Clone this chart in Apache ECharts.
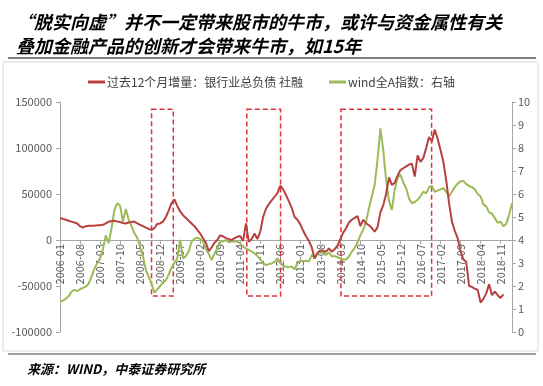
<!DOCTYPE html>
<html><head><meta charset="utf-8">
<script src="https://cdn.jsdelivr.net/npm/echarts@6/dist/echarts.min.js"></script>
<style>html,body{margin:0;padding:0;background:#fff}#c{width:543px;height:386px}</style>
</head><body><div id="c"></div>
<script>
// categories: monthly 2006-01 .. 2019-03
var startYear = 2006, nMonths = 159;
var categories = [];
for (var i = 0; i < nMonths; i++) {
  var y = startYear + Math.floor(i / 12), m = (i % 12) + 1;
  categories.push(y + '-' + (m < 10 ? '0' + m : m));
}
// 过去12个月增量：银行业总负债 社融 (left axis), thousands
var redK = [
 23.6,23,22,21,20,19,18,15,13.5,15,
 15.5,15.5,15.5,16,16,16.5,18,20,20.5,21,
 20,19.5,18.5,18,19,19.5,20,18,16.5,15,
 13.5,12,11,13,17.5,18,20,25,32,40,
 44,37,31,27,24,21,18,15,11,7,
 2,-3,-12,-8,-3,0,5,4,2,1,
 0,2,3.5,4.3,-1,18,-2,1,7,1,
 9,25,34,39,43,47,51,59,55,49,
 42,35,25,22,17,10,4,-1,-8,-20,
 -14,-11,-12,-12.7,-9,-12.7,-10,-6,1,8,
 12.7,19,22,24,26,15,22,18,16,13,
 9,14,30,38,50,68,60,62,70,76,
 78,80,82,83,69,92,85,89,100,112,
 107,120,110,98,85,65,40,20,10,2,
 -12,-21,-24,-50,-51,-53,-54,-68,-64,-58,
 -48,-60,-56,-60,-63,-59
];
var redSeries = redK.map(function(v){ return Math.round(v * 1000); });
// wind全A指数 (right axis, thousands)
var greenSeries = [
 1.32,1.36,1.45,1.55,1.75,1.83,1.78,1.85,1.92,1.97,
 2.1,2.4,2.75,3.0,3.2,3.6,4.2,3.86,4.5,5.3,
 5.6,5.5,4.8,5.35,4.9,4.6,4.3,4.1,3.7,3.3,
 2.7,2.4,2.1,1.71,1.85,2.0,2.15,2.25,2.5,2.8,
 3.0,3.2,4.0,3.2,3.3,3.5,3.93,4.05,4.1,4.04,
 3.93,3.6,3.4,3.13,3.4,3.64,3.97,3.93,4.0,3.9,
 3.93,3.95,3.93,3.85,3.7,3.64,3.57,3.5,3.42,3.3,
 3.16,3.0,2.91,2.95,2.98,3.05,3.2,3.0,2.88,2.84,
 2.82,2.85,2.72,3.0,3.1,3.09,3.1,3.06,3.35,3.2,
 3.42,3.45,3.45,3.35,3.47,3.28,3.3,3.25,3.2,3.15,
 3.15,3.28,3.49,3.65,3.9,4.2,4.45,4.8,5.38,5.9,
 6.4,7.5,8.85,7.9,6.6,5.7,5.3,6.2,6.7,6.85,
 6.5,6.25,5.8,5.6,5.65,5.75,5.9,6.1,6.03,6.3,
 6.35,6.1,6.15,6.2,6.25,6.1,5.9,6.1,6.3,6.45,
 6.55,6.57,6.43,6.35,6.3,6.2,6.0,5.9,5.55,5.45,
 5.2,5.15,4.95,4.75,4.8,4.6,4.7,5.1,5.6
];
var leftTicks = {min: -100000, max: 150000, step: 50000};
var rightTicks = {min: 0, max: 10, step: 1};
// dashed annotation boxes (month index ranges, left-axis value range)
var boxMonths = [[32.0, 39.6], [65.3, 77.1], [98.2, 129.9]];
var boxValues = [-61000, 142000];
var seriesNames = ['过去12个月增量：银行业总负债 社融', 'wind全A指数：右轴'];
var titleLines = ['“脱实向虚”并不一定带来股市的牛市，或许与资金属性有关', '叠加金融产品的创新才会带来牛市，如15年'];
var sourceText = '来源：WIND，中泰证券研究所';

var gridTop = 102, gridBottom = 54, chartH = 386;
var plotH = chartH - gridTop - gridBottom;
// distance from the plot bottom to the left axis zero line
var zeroOffset = -plotH * (0 - leftTicks.min) / (leftTicks.max - leftTicks.min);

var chart = echarts.init(document.getElementById('c'), null, {renderer: 'canvas'});
var axisGray = '#A6A6A6', labelGray = '#595959';
var font = '"Noto Sans CJK SC", "Noto Sans", sans-serif';
chart.setOption({
  animation: false,
  backgroundColor: '#fff',
  title: {
    text: titleLines.join('\n'),
    left: 11, top: 5,
    textStyle: {fontSize: 18, fontWeight: 'bold', fontStyle: 'italic', color: '#000', lineHeight: 24, fontFamily: font}
  },
  graphic: [
    {type: 'line', shape: {x1: 8, y1: 58, x2: 536, y2: 58}, style: {stroke: '#000', lineWidth: 1}},
    {type: 'rect', shape: {x: 3, y: 62, width: 535, height: 289}, style: {fill: 'none', stroke: '#D9D9D9', lineWidth: 1}},
    {type: 'line', shape: {x1: 8, y1: 354, x2: 536, y2: 354}, style: {stroke: '#404040', lineWidth: 1}},
    {type: 'text', left: 27, top: 363, style: {text: sourceText, fontSize: 13, fontWeight: 'bold', fontStyle: 'italic', fill: '#000', fontFamily: font}}
  ],
  legend: {
    top: 71, left: 'center', itemGap: 26, itemWidth: 17, itemHeight: 3, icon: 'rect',
    textStyle: {fontSize: 12, color: '#404040', fontFamily: font, padding: [0, 0, 0, -3]},
    data: seriesNames
  },
  grid: {left: 60, right: 31, top: gridTop, bottom: gridBottom, containLabel: false},
  xAxis: [{
    type: 'category', data: categories, boundaryGap: false, position: 'bottom', offset: zeroOffset,
    axisLine: {onZero: false, lineStyle: {color: axisGray}},
    axisTick: {show: true, interval: 6, length: 4, lineStyle: {color: axisGray}},
    axisLabel: {interval: 6, rotate: 90, fontSize: 11, color: labelGray, fontFamily: font, margin: 4},
    splitLine: {show: false}
  }, {
    type: 'value', min: 0, max: nMonths - 1, show: false, gridIndex: 0, position: 'top'
  }],
  yAxis: [{
    type: 'value', min: leftTicks.min, max: leftTicks.max, interval: leftTicks.step,
    axisLine: {show: true, onZero: false, lineStyle: {color: axisGray}},
    axisTick: {show: true, length: 4, lineStyle: {color: axisGray}},
    axisLabel: {fontSize: 11, color: labelGray, fontFamily: font, margin: 8, formatter: function(v){ return String(v); }},
    splitLine: {show: false}
  }, {
    type: 'value', min: rightTicks.min, max: rightTicks.max, interval: rightTicks.step, position: 'right',
    axisLine: {show: true, onZero: false, lineStyle: {color: axisGray}},
    axisTick: {show: true, length: 4, lineStyle: {color: axisGray}},
    axisLabel: {fontSize: 11, color: labelGray, fontFamily: font, margin: 6},
    splitLine: {show: false}
  }],
  series: [{
    name: seriesNames[0], type: 'line', data: redSeries, xAxisIndex: 0, yAxisIndex: 0,
    symbol: 'none', lineStyle: {width: 2, color: '#B8403F'}, itemStyle: {color: '#B8403F'}, z: 3
  }, {
    name: seriesNames[1], type: 'line', data: greenSeries, xAxisIndex: 0, yAxisIndex: 1,
    symbol: 'none', lineStyle: {width: 2, color: '#9BBB59'}, itemStyle: {color: '#9BBB59'}, z: 2
  }, {
    name: 'boxes', type: 'line', data: [], xAxisIndex: 1, yAxisIndex: 0, silent: true,
    markArea: {
      silent: true,
      itemStyle: {color: 'rgba(0,0,0,0)', borderColor: '#E0303A', borderWidth: 1.5, borderType: [5, 3]},
      data: boxMonths.map(function(b){ return [{xAxis: b[0], yAxis: boxValues[1]}, {xAxis: b[1], yAxis: boxValues[0]}]; })
    }
  }]
});
</script></body></html>
